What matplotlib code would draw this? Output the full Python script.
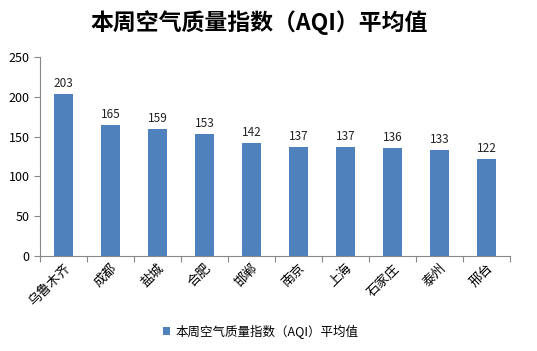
import matplotlib.pyplot as plt

plt.rcParams['font.family'] = ['Noto Sans CJK SC', 'DejaVu Sans']

cities = ["乌鲁木齐", "成都", "盐城", "合肥", "邯郸", "南京", "上海", "石家庄", "泰州", "邢台"]
aqi = [203, 165, 159, 153, 142, 137, 137, 136, 133, 122]
series_name = "本周空气质量指数（AQI）平均值"

fig = plt.figure(figsize=(5.37, 3.51), dpi=100)
ax = fig.add_axes([0.0745, 0.2707, 0.8755, 0.567])

x = range(len(cities))
bars = ax.bar(x, aqi, width=0.41, color="#4F81BD", label=series_name)
for xi, v in zip(x, aqi):
    ax.text(xi, v + 5, str(v), ha="center", va="bottom", fontsize=8.5, color="#222222")

ax.set_xlim(-0.5, len(cities) - 0.5)
ax.set_ylim(0, 250)
ax.set_yticks(range(0, 251, 50))
ax.set_xticks([i - 0.5 for i in range(len(cities) + 1)], minor=False)
ax.set_xticklabels([])
ax.set_xticks(list(x), minor=True)
ax.set_xticklabels(cities, minor=True, rotation=45, ha="right", rotation_mode="anchor", fontsize=9.5)
ax.tick_params(axis="x", which="minor", length=0, pad=4)
ax.tick_params(axis="x", which="major", length=4, color="#888888")
ax.tick_params(axis="y", length=4, color="#888888", labelsize=9)

for s in ["top", "right"]:
    ax.spines[s].set_visible(False)
for s in ["left", "bottom"]:
    ax.spines[s].set_color("#888888")

fig.text(0.482, 0.935, series_name, ha="center", va="center", fontsize=16.5, fontweight="bold")
fig.legend(handles=[bars], labels=[series_name], loc="center", bbox_to_anchor=(0.485, 0.055),
           frameon=False, fontsize=9, handlelength=0.6, handleheight=0.6, handletextpad=0.4)

fig.savefig("out.png", dpi=100)
